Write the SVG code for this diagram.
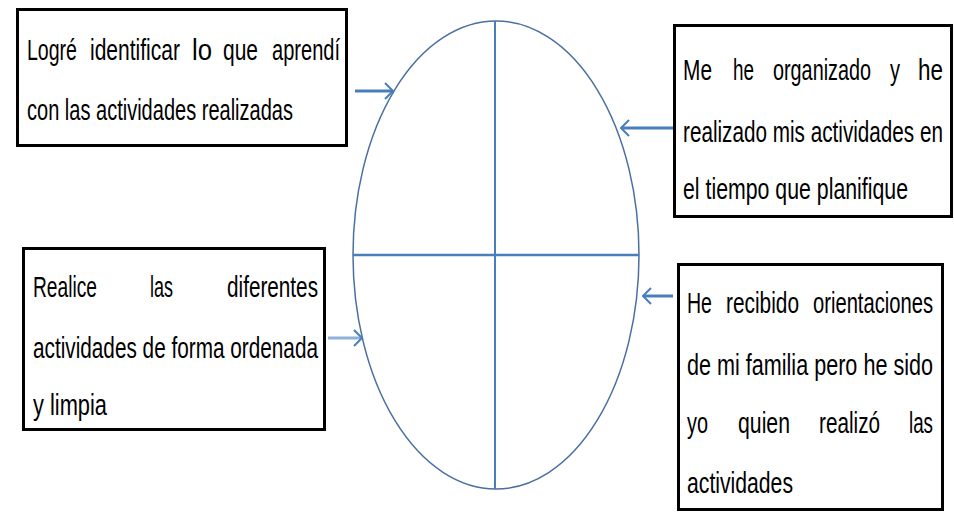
<svg xmlns="http://www.w3.org/2000/svg" width="954" height="513" viewBox="0 0 954 513">
<style>
.box{fill:#fff;stroke:#000;stroke-width:3}
.t{font-family:"Liberation Sans",Arial,sans-serif;font-size:30px;fill:#000}
.ar{stroke:#4a7ebb;stroke-width:3;fill:none}
</style>
<defs>
<marker id="ah" markerUnits="userSpaceOnUse" markerWidth="14" markerHeight="22" viewBox="-11 -11 13 22" refX="0" refY="0" orient="auto">
<path d="M-8,-8 L0,0 L-8,8" fill="none" stroke="#4a7ebb" stroke-width="2"/>
</marker>
</defs>
<g id="circle">
<ellipse cx="496" cy="255" rx="143" ry="234" fill="none" stroke="#4a6fa0" stroke-width="1.5"/>
<line x1="495" y1="21" x2="495" y2="489" stroke="#4a7ebb" stroke-width="2"/>
<line x1="353" y1="255" x2="639" y2="255" stroke="#4a7ebb" stroke-width="2.5"/>
</g>
<g id="connectors">
<line class="ar" x1="355" y1="91" x2="393" y2="91" marker-end="url(#ah)"/>
<line class="ar" x1="673" y1="128" x2="621" y2="128" marker-end="url(#ah)"/>
<line class="ar" x1="673" y1="296" x2="643" y2="296" marker-end="url(#ah)"/>
<line class="ar" x1="328" y1="338" x2="362" y2="338" marker-end="url(#ah)" style="stroke:#8fb1da"/>
</g>
<g id="box1">
<rect class="box" x="17.5" y="9.5" width="329" height="136"/>
<text class="t" y="60" lengthAdjust="spacingAndGlyphs"><tspan x="27" textLength="50" lengthAdjust="spacingAndGlyphs">Logré</tspan></text>
<text class="t" x="90" y="60" textLength="90" lengthAdjust="spacingAndGlyphs">identificar</text>
<text class="t" x="192" y="60" textLength="20" lengthAdjust="spacingAndGlyphs">lo</text>
<text class="t" x="223" y="60" textLength="35" lengthAdjust="spacingAndGlyphs">que</text>
<text class="t" x="272" y="60" textLength="68" lengthAdjust="spacingAndGlyphs">aprendí</text>
<text class="t" x="27" y="120" textLength="266" lengthAdjust="spacingAndGlyphs">con las actividades realizadas</text>
</g>
<g id="box2">
<rect class="box" x="674.5" y="25.5" width="277" height="191"/>
<text class="t" x="683" y="80" textLength="29" lengthAdjust="spacingAndGlyphs">Me</text>
<text class="t" x="733" y="80" textLength="21" lengthAdjust="spacingAndGlyphs">he</text>
<text class="t" x="773" y="80" textLength="98" lengthAdjust="spacingAndGlyphs">organizado</text>
<text class="t" x="890" y="80" textLength="10" lengthAdjust="spacingAndGlyphs">y</text>
<text class="t" x="918" y="80" textLength="25" lengthAdjust="spacingAndGlyphs">he</text>
<text class="t" x="683" y="142" textLength="260" lengthAdjust="spacingAndGlyphs">realizado mis actividades en</text>
<text class="t" x="683" y="199" textLength="225" lengthAdjust="spacingAndGlyphs">el tiempo que planifique</text>
</g>
<g id="box3">
<rect class="box" x="23.5" y="248.5" width="301" height="181"/>
<text class="t" x="33" y="297" textLength="64" lengthAdjust="spacingAndGlyphs">Realice</text>
<text class="t" x="150" y="297" textLength="23" lengthAdjust="spacingAndGlyphs">las</text>
<text class="t" x="227" y="297" textLength="91" lengthAdjust="spacingAndGlyphs">diferentes</text>
<text class="t" x="33" y="358" textLength="285" lengthAdjust="spacingAndGlyphs">actividades de forma ordenada</text>
<text class="t" x="33" y="415" textLength="74" lengthAdjust="spacingAndGlyphs">y limpia</text>
</g>
<g id="box4">
<rect class="box" x="678.5" y="264.5" width="264" height="245"/>
<text class="t" x="687" y="313" textLength="25" lengthAdjust="spacingAndGlyphs">He</text>
<text class="t" x="726" y="313" textLength="73" lengthAdjust="spacingAndGlyphs">recibido</text>
<text class="t" x="813" y="313" textLength="120" lengthAdjust="spacingAndGlyphs">orientaciones</text>
<text class="t" x="687" y="375" textLength="246" lengthAdjust="spacingAndGlyphs">de mi familia pero he sido</text>
<text class="t" x="687" y="433" textLength="21" lengthAdjust="spacingAndGlyphs">yo</text>
<text class="t" x="738" y="433" textLength="52" lengthAdjust="spacingAndGlyphs">quien</text>
<text class="t" x="819" y="433" textLength="61" lengthAdjust="spacingAndGlyphs">realizó</text>
<text class="t" x="909" y="433" textLength="24" lengthAdjust="spacingAndGlyphs">las</text>
<text class="t" x="687" y="493" textLength="106" lengthAdjust="spacingAndGlyphs">actividades</text>
</g>
</svg>
